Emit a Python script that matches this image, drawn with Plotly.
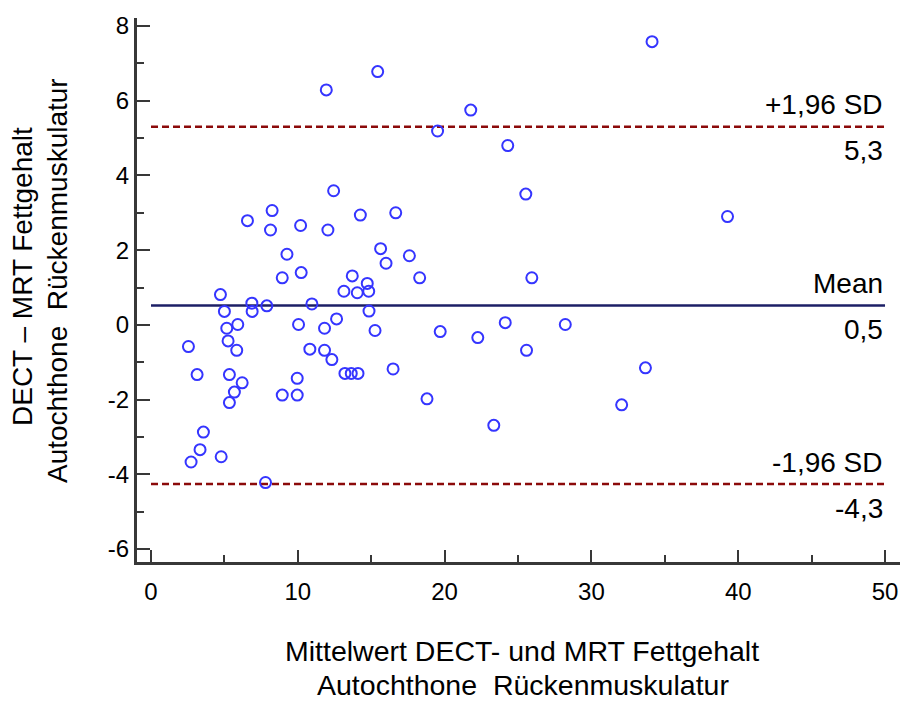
import plotly.graph_objects as go

# ---- data ----
x_mean = [15.44, 11.94, 19.52, 12.44, 8.25, 6.57, 8.14, 10.19, 12.05, 14.26,
          16.67, 9.26, 15.64, 16.01, 17.60, 10.23, 8.94, 13.71, 18.30, 14.73,
          4.73, 13.14, 14.05, 14.83, 6.87, 7.89, 10.96, 5.00, 6.89, 14.85,
          12.64, 5.16, 5.91, 10.05, 11.82, 15.26, 19.70, 2.55, 5.25, 5.84,
          10.82, 11.82, 12.32, 16.49, 3.14, 5.34, 9.96, 6.21, 13.21, 13.64,
          14.10, 5.68, 8.94, 9.96, 5.34, 18.80, 3.57, 3.34, 2.73, 4.78,
          7.80, 34.13, 21.78, 24.30, 25.53, 39.27, 25.94, 22.26, 24.13, 28.22,
          25.58, 33.68, 32.06, 23.35]
y_diff = [6.78, 6.29, 5.19, 3.59, 3.06, 2.79, 2.54, 2.66, 2.54, 2.94,
          3.00, 1.89, 2.04, 1.65, 1.85, 1.40, 1.26, 1.31, 1.26, 1.11,
          0.81, 0.90, 0.86, 0.90, 0.58, 0.51, 0.56, 0.36, 0.36, 0.37,
          0.16, -0.09, 0.01, 0.01, -0.09, -0.15, -0.18, -0.58, -0.43, -0.68,
          -0.65, -0.68, -0.93, -1.18, -1.33, -1.33, -1.43, -1.55, -1.30, -1.30,
          -1.30, -1.80, -1.88, -1.88, -2.08, -1.98, -2.87, -3.34, -3.67, -3.53,
          -4.22, 7.58, 5.75, 4.80, 3.50, 2.90, 1.26, -0.34, 0.06, 0.01,
          -0.68, -1.15, -2.14, -2.69]

mean_diff = 0.52
upper_loa = 5.30
lower_loa = -4.26
line_x = [0, 50]

upper_name, upper_val = "+1,96 SD", "5,3"
mean_name, mean_val = "Mean", "0,5"
lower_name, lower_val = "-1,96 SD", "-4,3"

y_ticks = [-6, -4, -2, 0, 2, 4, 6, 8]
y_ticktext = ["-6", "-4", "-2", "0", "2", "4", "6", "8"]
x_ticks = [0, 10, 20, 30, 40, 50]

y_title_1 = "DECT – MRT Fettgehalt"
y_title_2 = "Autochthone  Rückenmuskulatur"
x_title_1 = "Mittelwert DECT- und MRT Fettgehalt"
x_title_2 = "Autochthone  Rückenmuskulatur"

FONT = "Liberation Sans, Arial, sans-serif"
AXIS_COL = "#383838"

fig = go.Figure()

fig.add_trace(go.Scatter(x=line_x, y=[upper_loa, upper_loa], mode="lines",
                         line=dict(color="#8b0a0a", width=2.5, dash="7px,4px"),
                         hoverinfo="skip", showlegend=False))
fig.add_trace(go.Scatter(x=line_x, y=[lower_loa, lower_loa], mode="lines",
                         line=dict(color="#8b0a0a", width=2.5, dash="7px,4px"),
                         hoverinfo="skip", showlegend=False))
fig.add_trace(go.Scatter(x=line_x, y=[mean_diff, mean_diff], mode="lines",
                         line=dict(color="#1c1f66", width=2.5),
                         hoverinfo="skip", showlegend=False))
fig.add_trace(go.Scatter(x=x_mean, y=y_diff, mode="markers",
                         marker=dict(symbol="circle-open", size=11,
                                     color="#3535ff", line=dict(width=2, color="#3535ff")),
                         showlegend=False))

# plot area in pixels
L, R, T, B = 137, 900, 18, 562
W, H = R - L, B - T


def px(xp):
    return (xp - L) / W


def py(yp):
    return (B - yp) / H


ann = []
for val, name, num in [(upper_loa, upper_name, upper_val),
                       (mean_diff, mean_name, mean_val),
                       (lower_loa, lower_name, lower_val)]:
    ann.append(dict(x=50, y=val, xref="x", yref="y", text=name, showarrow=False,
                    xanchor="right", yanchor="middle", yshift=22,
                    font=dict(family=FONT, size=28, color="black")))
    ann.append(dict(x=50, y=val, xref="x", yref="y", text=num, showarrow=False,
                    xanchor="right", yanchor="middle", yshift=-24,
                    font=dict(family=FONT, size=28, color="black")))

ann.append(dict(x=px(22), y=py(277), xref="paper", yref="paper", text=y_title_1,
                textangle=-90, showarrow=False, xanchor="center", yanchor="middle",
                font=dict(family=FONT, size=28, color="black")))
ann.append(dict(x=px(57), y=py(281), xref="paper", yref="paper", text=y_title_2,
                textangle=-90, showarrow=False, xanchor="center", yanchor="middle",
                font=dict(family=FONT, size=28, color="black")))
ann.append(dict(x=px(522), y=py(651), xref="paper", yref="paper", text=x_title_1,
                showarrow=False, xanchor="center", yanchor="middle",
                font=dict(family=FONT, size=28.5, color="black")))
ann.append(dict(x=px(523), y=py(685), xref="paper", yref="paper", text=x_title_2,
                showarrow=False, xanchor="center", yanchor="middle",
                font=dict(family=FONT, size=28.5, color="black")))

fig.update_layout(
    width=905, height=702,
    margin=dict(l=L, r=905 - R, t=T, b=702 - B),
    paper_bgcolor="white", plot_bgcolor="white",
    font=dict(family=FONT, size=24, color="black"),
    annotations=ann,
    xaxis=dict(range=[-0.954, 51.02], tickvals=x_ticks, showgrid=False, zeroline=False,
               showline=True, linecolor=AXIS_COL, linewidth=3,
               ticks="inside", ticklen=12, tickwidth=2, tickcolor=AXIS_COL,
               ticklabelstandoff=6,
               tickfont=dict(family=FONT, size=24, color="black"),
               minor=dict(ticks="inside", ticklen=7, tickwidth=2, tickcolor=AXIS_COL,
                          tick0=0, dtick=5)),
    yaxis=dict(range=[-6.347, 8.214], tickvals=y_ticks, ticktext=y_ticktext,
               showgrid=False, zeroline=False,
               showline=True, linecolor=AXIS_COL, linewidth=3,
               ticks="inside", ticklen=13, tickwidth=2, tickcolor=AXIS_COL,
               ticklabelstandoff=0,
               tickfont=dict(family=FONT, size=24, color="black"),
               minor=dict(ticks="inside", ticklen=7, tickwidth=2, tickcolor=AXIS_COL,
                          tick0=0, dtick=1)),
)

fig.write_html("out.html")
